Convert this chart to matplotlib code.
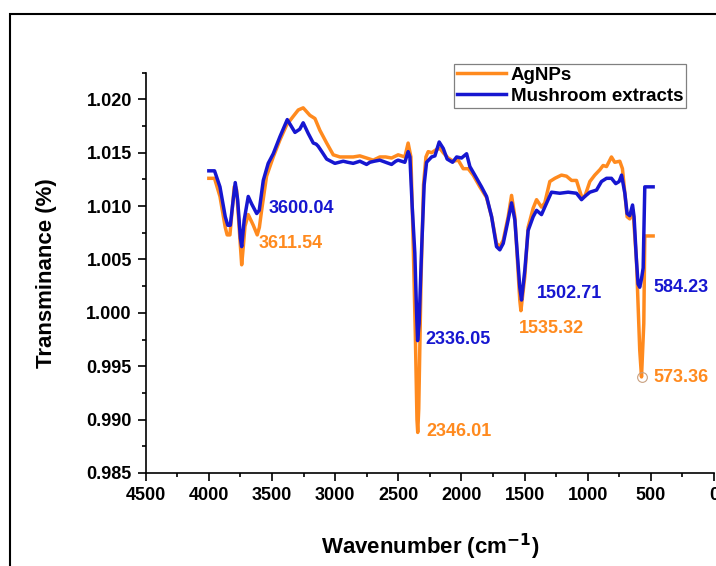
import matplotlib
matplotlib.use('Agg')
import matplotlib.pyplot as plt
from matplotlib.patches import Rectangle

plt.rcParams['font.family'] = ['Liberation Sans', 'DejaVu Sans']
plt.rcParams['font.weight'] = 'bold'
plt.rcParams['mathtext.default'] = 'bf'

# FTIR spectra (wavenumber, transmittance)
wn_agnps = [4000, 3955, 3912, 3870, 3855, 3833, 3799, 3788, 3780, 3760, 3740, 3725,
            3714, 3688, 3648, 3617, 3600, 3582, 3543, 3490, 3437, 3384, 3332, 3292,
            3253, 3200, 3160, 3121, 3067, 3015, 2962, 2900, 2857, 2804, 2751, 2698,
            2646, 2600, 2553, 2501, 2448, 2422, 2400, 2385, 2365, 2352, 2346, 2338,
            2320, 2300, 2281, 2263, 2236, 2197, 2170, 2144, 2105, 2065, 2025, 1986,
            1946, 1907, 1854, 1801, 1761, 1722, 1696, 1669, 1630, 1603, 1577, 1538,
            1529, 1498, 1472, 1432, 1405, 1366, 1340, 1300, 1260, 1208, 1168, 1128,
            1089, 1049, 1023, 983, 944, 904, 878, 851, 812, 786, 746, 725, 706, 688,
            667, 641, 614, 588, 574, 556, 548, 482]
t_agnps = [1.0126, 1.0126, 1.0109, 1.0080, 1.0073, 1.0073, 1.0118, 1.0118, 1.0115,
           1.0080, 1.0045, 1.0065, 1.0081, 1.0092, 1.0082, 1.0073, 1.0080, 1.0096,
           1.0128, 1.0146, 1.0162, 1.0176, 1.0184, 1.0190, 1.0192, 1.0185, 1.0182,
           1.0171, 1.0159, 1.0148, 1.0146, 1.0146, 1.0146, 1.0147, 1.0145, 1.0143,
           1.0146, 1.0146, 1.0145, 1.0148, 1.0146, 1.0159, 1.0146, 1.0080, 0.9980,
           0.9900, 0.9888, 0.9910, 1.0030, 1.0120, 1.0146, 1.0151, 1.0150, 1.0153,
           1.0154, 1.0150, 1.0145, 1.0142, 1.0143, 1.0135, 1.0135, 1.0129, 1.0118,
           1.0108, 1.0090, 1.0065, 1.0062, 1.0068, 1.0090, 1.0110, 1.0090, 1.0012,
           1.0002, 1.0034, 1.0080, 1.0098, 1.0106, 1.0099, 1.0103, 1.0123, 1.0126,
           1.0129, 1.0128, 1.0124, 1.0124, 1.0109, 1.0109, 1.0123, 1.0129, 1.0134,
           1.0138, 1.0137, 1.0146, 1.0141, 1.0142, 1.0135, 1.0112, 1.0090, 1.0088,
           1.0096, 1.0049, 0.9965, 0.9940, 0.9990, 1.0072, 1.0072]

wn_mush = [4000, 3955, 3912, 3870, 3850, 3830, 3807, 3791, 3772, 3750, 3740, 3720,
           3688, 3661, 3621, 3601, 3585, 3569, 3530, 3490, 3437, 3379, 3318, 3280,
           3253, 3213, 3173, 3150, 3134, 3100, 3067, 3002, 2936, 2900, 2857, 2804,
           2751, 2725, 2690, 2646, 2600, 2553, 2520, 2501, 2448, 2422, 2408, 2390,
           2369, 2355, 2347, 2335, 2315, 2295, 2276, 2236, 2210, 2176, 2144, 2113,
           2070, 2038, 1999, 1959, 1933, 1894, 1841, 1801, 1761, 1722, 1696, 1669,
           1630, 1603, 1577, 1538, 1524, 1498, 1472, 1432, 1405, 1366, 1340, 1287,
           1221, 1155, 1089, 1049, 1023, 983, 930, 891, 851, 812, 778, 751, 732,
           706, 688, 667, 645, 633, 614, 601, 588, 574, 561, 548, 482]
t_mush = [1.0133, 1.0133, 1.0118, 1.0090, 1.0082, 1.0082, 1.0106, 1.0122, 1.0106,
          1.0070, 1.0062, 1.0087, 1.0109, 1.0102, 1.0093, 1.0096, 1.0110, 1.0124,
          1.0140, 1.0149, 1.0165, 1.0181, 1.0169, 1.0172, 1.0178, 1.0168, 1.0159,
          1.0158, 1.0156, 1.0150, 1.0144, 1.0140, 1.0142, 1.0141, 1.0140, 1.0142,
          1.0139, 1.0141, 1.0142, 1.0143, 1.0141, 1.0139, 1.0142, 1.0143, 1.0141,
          1.0151, 1.0146, 1.0100, 1.0056, 1.0000, 0.9974, 0.9990, 1.0060, 1.0120,
          1.0141, 1.0146, 1.0147, 1.0160, 1.0154, 1.0144, 1.0141, 1.0146, 1.0145,
          1.0149, 1.0137, 1.0129, 1.0118, 1.0109, 1.0090, 1.0062, 1.0059, 1.0065,
          1.0087, 1.0103, 1.0087, 1.0024, 1.0012, 1.0040, 1.0077, 1.0090, 1.0096,
          1.0092, 1.0099, 1.0113, 1.0112, 1.0113, 1.0112, 1.0106, 1.0109, 1.0113,
          1.0115, 1.0123, 1.0126, 1.0126, 1.0121, 1.0123, 1.0129, 1.0112, 1.0093,
          1.0091, 1.0101, 1.0090, 1.0049, 1.0027, 1.0024, 1.0032, 1.0042, 1.0118,
          1.0118]

# peak labels: text, x, y (left edge / centre of the text), colour key
peak_text = ['3600.04', '3611.54', '2336.05', '2346.01', '1535.32', '1502.71', '584.23', '573.36']
peak_x = [3524, 3603, 2289, 2281, 1545, 1403, 477, 477]
peak_y = [1.00981, 1.00653, 0.99753, 0.98890, 0.99856, 1.00184, 1.00240, 0.99397]
peak_series = ['m', 'a', 'm', 'a', 'a', 'm', 'm', 'a']

orange = '#FF8A1E'
blue = '#1616D0'

fig = plt.figure(figsize=(7.16, 5.66), dpi=100)
ax = fig.add_axes([145.7 / 716, 1 - 473 / 566, (714 - 145.7) / 716, (473 - 72.6) / 566])

ax.plot(wn_agnps, t_agnps, color=orange, lw=2.5, label='AgNPs', solid_joinstyle='round')
ax.plot(wn_mush, t_mush, color=blue, lw=2.5, label='Mushroom extracts', solid_joinstyle='round')

# small circle on the AgNPs minimum near 573
i_min = t_agnps.index(min(t_agnps[-10:]))
ax.plot(wn_agnps[i_min], t_agnps[i_min], 'o', mfc='none', mec='#C8A080', ms=7, mew=0.8)

for txt, x, y, s in zip(peak_text, peak_x, peak_y, peak_series):
    ax.text(x, y, txt, color=orange if s == 'a' else blue, fontsize=13,
            fontweight='bold', ha='left', va='center')

ax.set_xlim(4500, 0)
ax.set_ylim(0.985, 1.0225)
ax.set_xticks(range(4500, -1, -500))
ax.set_xticks(range(4250, 0, -500), minor=True)
ax.set_yticks([0.985, 0.990, 0.995, 1.000, 1.005, 1.010, 1.015, 1.020])
ax.set_yticks([0.9875, 0.9925, 0.9975, 1.0025, 1.0075, 1.0125, 1.0175, 1.0225], minor=True)
ax.set_yticklabels(['0.985', '0.990', '0.995', '1.000', '1.005', '1.010', '1.015', '1.020'])

ax.spines['top'].set_visible(False)
ax.spines['right'].set_visible(False)
for sp in ['left', 'bottom']:
    ax.spines[sp].set_linewidth(1.2)
ax.tick_params(which='major', direction='out', length=6, width=1.2, labelsize=13, pad=4)
ax.tick_params(which='minor', direction='out', length=3, width=1.2)
for lab in ax.get_xticklabels() + ax.get_yticklabels():
    lab.set_fontweight('bold')

ax.set_xlabel(r'Wavenumber (cm$^{-1}$)', fontsize=16, fontweight='bold')
ax.set_ylabel('Transminance (%)', fontsize=16, fontweight='bold')
ax.xaxis.label.set_va('center')
ax.yaxis.label.set_va('center')
ax.xaxis.set_label_coords(0.5, (473 - 547) / (473 - 72.6))
ax.yaxis.set_label_coords((47 - 145.7) / (714 - 145.7), 0.5)

leg = fig.legend(loc='upper right', bbox_to_anchor=(686 / 716, 1 - 64 / 566),
                 prop={'weight': 'bold', 'size': 13.5}, frameon=True, fancybox=False,
                 edgecolor='#808080', framealpha=1, borderpad=0.15, borderaxespad=0,
                 handlelength=2.6, handletextpad=0.25, labelspacing=0.2)
leg.get_frame().set_linewidth(0.9)

# outer frame around the figure
fig.add_artist(Rectangle((10 / 716, -0.1), 1.0, 1.1 - 14 / 566, transform=fig.transFigure,
                         fill=False, lw=1.5, ec='black'))

plt.savefig('out.png', dpi=100)
